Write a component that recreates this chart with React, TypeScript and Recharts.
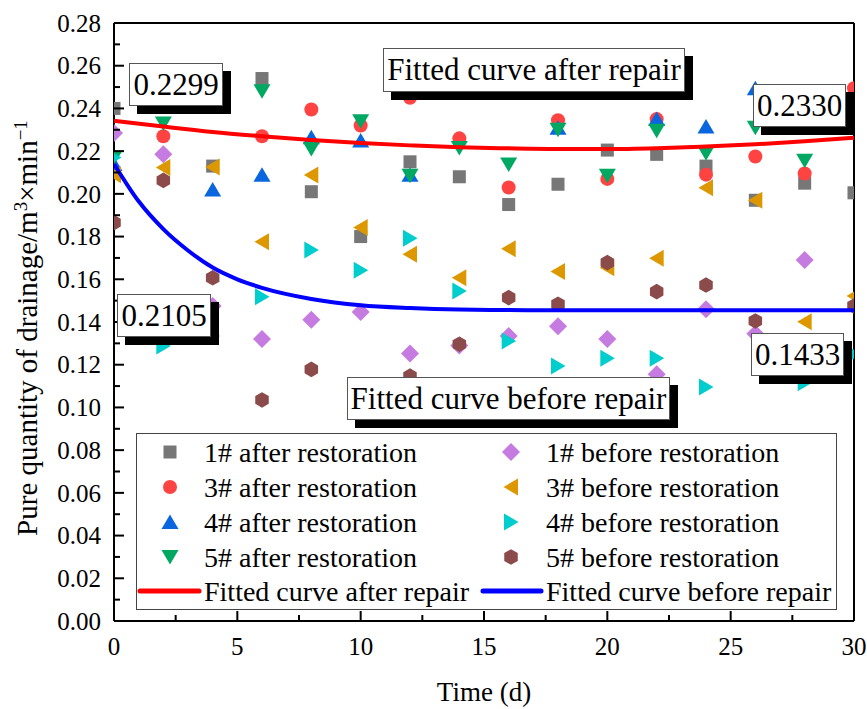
import React from 'react';
import { ComposedChart, Scatter, XAxis, YAxis, ReferenceLine, Legend } from 'recharts';

const FONT = "'Liberation Serif', 'Times New Roman', serif";

const days = [0, 2, 4, 6, 8, 10, 12, 14, 16, 18, 20, 22, 24, 26, 28, 30];

const after1 = [0.240, null, 0.213, 0.254, 0.201, 0.180, 0.215, 0.208, 0.195, 0.2045, 0.2205, 0.2185, 0.213, 0.197, 0.205, 0.2005];
const after3 = [null, 0.227, null, 0.227, 0.2395, 0.232, 0.245, 0.226, 0.203, 0.2345, 0.207, 0.235, 0.209, 0.2175, 0.2095, 0.2495];
const after4 = [0.214, null, 0.202, 0.209, 0.2265, 0.225, 0.209, null, null, 0.231, null, 0.235, 0.2315, 0.2495, null, null];
const after5 = [0.217, 0.233, null, 0.248, 0.221, 0.234, 0.2085, 0.2215, 0.2138, 0.230, 0.2085, 0.2295, 0.219, 0.231, 0.2155, null];
const before1 = [0.2285, 0.2185, 0.1475, 0.132, 0.141, 0.1447, 0.1253, 0.129, 0.1334, 0.138, 0.132, 0.1155, 0.146, 0.1345, 0.169, null];
const before3 = [0.209, 0.2123, 0.2126, 0.1776, 0.2088, 0.1842, 0.1717, 0.1607, 0.1743, 0.1636, 0.1654, 0.1698, 0.2029, 0.197, 0.1401, 0.1522];
const before4 = [0.217, 0.1288, 0.1334, 0.1518, 0.1737, 0.1642, 0.1792, 0.1545, 0.1311, 0.1194, 0.123, 0.123, 0.1096, null, 0.1116, 0.125];
const before5 = [0.1865, 0.2063, 0.1607, 0.1035, 0.1178, null, 0.1147, 0.1296, 0.1514, 0.1483, 0.1678, 0.1542, 0.1573, 0.1405, null, 0.1475];

const fitAfterDays = [0, 2, 4, 6, 8, 10, 12, 14, 16, 18, 20, 22, 24, 26, 28, 30];
const fitAfter = [0.2342, 0.2315, 0.2290, 0.2270, 0.2252, 0.2238, 0.2227, 0.2218, 0.2213, 0.2210, 0.2210, 0.2214, 0.2222, 0.2232, 0.2246, 0.2263];
const fitBeforeDays = [0, 1, 2, 3, 4, 5, 6, 8, 10, 12, 14, 16, 18, 20, 22, 24, 26, 28, 30];
const fitBefore = [0.214, 0.1965, 0.1835, 0.1735, 0.1655, 0.160, 0.156, 0.1508, 0.1478, 0.1465, 0.1458, 0.1456, 0.1455, 0.1455, 0.1455, 0.1455, 0.1455, 0.1455, 0.1455];

const yTicks = [0, 0.01, 0.02, 0.03, 0.04, 0.05, 0.06, 0.07, 0.08, 0.09, 0.1, 0.11, 0.12, 0.13, 0.14, 0.15, 0.16, 0.17, 0.18, 0.19, 0.2, 0.21, 0.22, 0.23, 0.24, 0.25, 0.26, 0.27, 0.28];
const xTicks = [0, 2.5, 5, 7.5, 10, 12.5, 15, 17.5, 20, 22.5, 25, 27.5, 30];

const toPoints = (xs: number[], ys: (number | null)[]) =>
  xs.map((x, i) => ({ x, y: ys[i] })).filter((p) => p.y !== null);

type Kind = 'square' | 'circle' | 'up' | 'down' | 'left' | 'right' | 'diamond' | 'hex';

const Marker = ({ kind, cx, cy, color }: { kind: Kind; cx: number; cy: number; color: string }) => {
  switch (kind) {
    case 'square':
      return <rect x={cx - 6.5} y={cy - 6.5} width={13} height={13} fill={color} />;
    case 'circle':
      return <circle cx={cx} cy={cy} r={7} fill={color} />;
    case 'up':
      return <polygon points={`${cx},${cy - 7.5} ${cx - 8.5},${cy + 7} ${cx + 8.5},${cy + 7}`} fill={color} />;
    case 'down':
      return <polygon points={`${cx - 8.5},${cy - 7} ${cx + 8.5},${cy - 7} ${cx},${cy + 7.5}`} fill={color} />;
    case 'left':
      return <polygon points={`${cx - 7.5},${cy} ${cx + 7},${cy - 8.5} ${cx + 7},${cy + 8.5}`} fill={color} />;
    case 'right':
      return <polygon points={`${cx + 7.5},${cy} ${cx - 7},${cy - 8.5} ${cx - 7},${cy + 8.5}`} fill={color} />;
    case 'diamond':
      return <polygon points={`${cx},${cy - 9} ${cx + 9},${cy} ${cx},${cy + 9} ${cx - 9},${cy}`} fill={color} />;
    case 'hex': {
      const r = 7.8;
      const pts = [-90, -30, 30, 90, 150, 210]
        .map((a) => `${cx + r * Math.cos((a * Math.PI) / 180)},${cy + r * Math.sin((a * Math.PI) / 180)}`)
        .join(' ');
      return <polygon points={pts} fill={color} />;
    }
  }
  return null;
};

const series: { name: string; values: (number | null)[]; kind: Kind; color: string }[] = [
  { name: '1# after restoration', values: after1, kind: 'square', color: '#777777' },
  { name: '3# after restoration', values: after3, kind: 'circle', color: '#FF4242' },
  { name: '4# after restoration', values: after4, kind: 'up', color: '#0A66DE' },
  { name: '5# after restoration', values: after5, kind: 'down', color: '#00A862' },
  { name: '1# before restoration', values: before1, kind: 'diamond', color: '#C67BE0' },
  { name: '3# before restoration', values: before3, kind: 'left', color: '#DD9800' },
  { name: '4# before restoration', values: before4, kind: 'right', color: '#00CDCD' },
  { name: '5# before restoration', values: before5, kind: 'hex', color: '#8B4B4B' },
];

const YTick = (props: any) => {
  const { x, y, payload } = props;
  const v = payload.value as number;
  const major = Math.round(v * 100) % 2 === 0;
  const ax = x + 13;
  return (
    <g>
      <line x1={ax} x2={ax + (major ? 10 : 6)} y1={y} y2={y} stroke="#000" strokeWidth={2} />
      {major && (
        <text x={x} y={y} dy="0.35em" textAnchor="end" fontFamily={FONT} fontSize={25} fill="#000">
          {v.toFixed(2)}
        </text>
      )}
    </g>
  );
};

const XTick = (props: any) => {
  const { x, y, payload } = props;
  const v = payload.value as number;
  const major = v % 5 === 0;
  const ay = y - 16;
  return (
    <g>
      <line x1={x} x2={x} y1={ay} y2={ay - (major ? 10 : 6)} stroke="#000" strokeWidth={2} />
      {major && (
        <text x={x} y={y} dy="0.72em" textAnchor="middle" fontFamily={FONT} fontSize={25} fill="#000">
          {v}
        </text>
      )}
    </g>
  );
};

const LegendBox = () => {
  const rows = [19, 54, 89, 124, 158];
  const left = series.slice(0, 4);
  const right = series.slice(4);
  return (
    <svg width={701} height={177} style={{ display: 'block' }}>
      <rect x={0.5} y={0.5} width={700} height={176} fill="#fff" stroke="#444" strokeWidth={1} />
      {left.map((s, i) => (
        <g key={s.name}>
          <Marker kind={s.kind} cx={34} cy={rows[i]} color={s.color} />
          <text x={68} y={rows[i]} dy="0.35em" fontFamily={FONT} fontSize={28} fill="#000">{s.name}</text>
        </g>
      ))}
      {right.map((s, i) => (
        <g key={s.name}>
          <Marker kind={s.kind} cx={375} cy={rows[i]} color={s.color} />
          <text x={410} y={rows[i]} dy="0.35em" fontFamily={FONT} fontSize={28} fill="#000">{s.name}</text>
        </g>
      ))}
      <line x1={4} x2={63} y1={rows[4]} y2={rows[4]} stroke="#FF0000" strokeWidth={5} strokeLinecap="round" />
      <text x={68} y={rows[4]} dy="0.35em" fontFamily={FONT} fontSize={28} fill="#000">Fitted curve after repair</text>
      <line x1={347} x2={405} y1={rows[4]} y2={rows[4]} stroke="#0000FF" strokeWidth={5} strokeLinecap="round" />
      <text x={410} y={rows[4]} dy="0.35em" fontFamily={FONT} fontSize={28} fill="#000">Fitted curve before repair</text>
    </svg>
  );
};

const YTitle = () => (
  <text transform="translate(37,328) rotate(-90)" textAnchor="middle" fontFamily={FONT} fontSize={29} fill="#000">
    Pure quantity of drainage/m<tspan baselineShift="super" fontSize={19}>3</tspan>
    <tspan>×min</tspan>
    <tspan baselineShift="super" fontSize={19}>−1</tspan>
  </text>
);

const labelBoxes = [
  { text: '0.2299', left: 129, top: 63, width: 94, height: 43 },
  { text: 'Fitted curve after repair', left: 383, top: 48, width: 302, height: 44 },
  { text: '0.2330', left: 753, top: 84, width: 93, height: 43 },
  { text: '0.2105', left: 117, top: 294, width: 94, height: 43 },
  { text: '0.1433', left: 751, top: 333, width: 93, height: 43 },
  { text: 'Fitted curve before repair', left: 347, top: 377, width: 323, height: 43 },
];

const NoDot = () => <g />;

export default function App() {
  return (
    <div style={{ position: 'absolute', left: 0, top: 0, width: 867, height: 709, background: '#fff' }}>
      <ComposedChart width={867} height={709} margin={{ top: 23, right: 13, bottom: 0, left: 0 }}>
        <XAxis
          type="number"
          dataKey="x"
          domain={[0, 30]}
          ticks={xTicks}
          interval={0}
          allowDataOverflow
          height={88}
          tickSize={0}
          tickMargin={16}
          tickLine={false}
          axisLine={{ stroke: '#000', strokeWidth: 2 }}
          tick={<XTick />}
          label={{ value: 'Time (d)', position: 'insideBottom', offset: 8, fontFamily: FONT, fontSize: 27, fill: '#000' }}
        />
        <YAxis
          type="number"
          dataKey="y"
          domain={[0, 0.28]}
          ticks={yTicks}
          interval={0}
          allowDataOverflow
          width={114}
          tickSize={0}
          tickMargin={13}
          tickLine={false}
          axisLine={{ stroke: '#000', strokeWidth: 2 }}
          tick={<YTick />}
          label={{ content: () => <YTitle /> }}
        />
        <ReferenceLine y={0.28} stroke="#000" strokeWidth={2} />
        <ReferenceLine x={30} stroke="#000" strokeWidth={2} />
        {series.map((s) => (
          <Scatter
            key={s.name}
            name={s.name}
            data={toPoints(days, s.values)}
            dataKey="y"
            fill={s.color}
            isAnimationActive={false}
            shape={(p: any) => <Marker kind={s.kind} cx={p.cx} cy={p.cy} color={s.color} />}
          />
        ))}
        <Scatter
          name="Fitted curve after repair"
          data={toPoints(fitAfterDays, fitAfter)}
          dataKey="y"
          line={{ stroke: '#FF0000', strokeWidth: 4 }}
          lineJointType="monotoneX"
          shape={NoDot}
          isAnimationActive={false}
        />
        <Scatter
          name="Fitted curve before repair"
          data={toPoints(fitBeforeDays, fitBefore)}
          dataKey="y"
          line={{ stroke: '#0000FF', strokeWidth: 4 }}
          lineJointType="monotoneX"
          shape={NoDot}
          isAnimationActive={false}
        />
        <Legend
          layout="horizontal"
          verticalAlign="middle"
          align="center"
          wrapperStyle={{ left: 136, top: 433, width: 701, height: 177 }}
          content={() => <LegendBox />}
        />
      </ComposedChart>
      {labelBoxes.map((b) => (
        <div
          key={b.text}
          style={{
            position: 'absolute',
            left: b.left,
            top: b.top,
            width: b.width,
            height: b.height,
            boxSizing: 'border-box',
            background: '#fff',
            border: '1px solid #555',
            boxShadow: '8px 8px 0 #000',
            fontFamily: FONT,
            fontSize: 31,
            lineHeight: `${b.height - 2}px`,
            textAlign: 'center',
            whiteSpace: 'nowrap',
            color: '#000',
          }}
        >
          {b.text}
        </div>
      ))}
    </div>
  );
}
